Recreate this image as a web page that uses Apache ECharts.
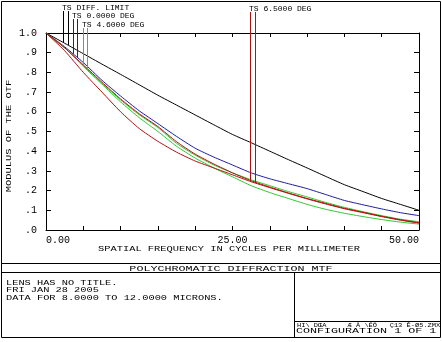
<!DOCTYPE html>
<html>
<head>
<meta charset="utf-8">
<script src="https://cdn.jsdelivr.net/npm/echarts@6/dist/echarts.min.js"></script>
<style>
html, body { margin: 0; padding: 0; background: #fff; }
#container { width: 442px; height: 342px; }
</style>
</head>
<body>
<div id="container"></div>
<script>
// spatial frequency (cycles/mm)
var freq = [0, 2.5, 5, 7.5, 10, 12.5, 15, 17.5, 20, 22.5, 25, 27.5, 30, 32.5, 35, 37.5, 40, 42.5, 45, 47.5, 50];

// MTF values
var diffLimit = [1.0, 0.948, 0.895, 0.842, 0.79, 0.737, 0.684, 0.634, 0.584, 0.534, 0.485, 0.443, 0.40, 0.357, 0.315, 0.272, 0.23, 0.195, 0.16, 0.13, 0.10];
var ts0 = [1.0, 0.93, 0.85, 0.76, 0.68, 0.605, 0.54, 0.475, 0.415, 0.37, 0.33, 0.29, 0.26, 0.235, 0.21, 0.18, 0.15, 0.128, 0.107, 0.088, 0.073];
var t46 = [1.0, 0.925, 0.835, 0.745, 0.66, 0.585, 0.52, 0.44, 0.38, 0.33, 0.29, 0.255, 0.225, 0.195, 0.168, 0.14, 0.115, 0.093, 0.073, 0.055, 0.042];
var s46 = [1.0, 0.925, 0.83, 0.74, 0.65, 0.57, 0.50, 0.425, 0.365, 0.315, 0.27, 0.225, 0.19, 0.16, 0.13, 0.105, 0.085, 0.068, 0.053, 0.04, 0.03];
var t65 = [1.0, 0.925, 0.838, 0.75, 0.665, 0.59, 0.525, 0.448, 0.385, 0.335, 0.29, 0.25, 0.218, 0.188, 0.16, 0.135, 0.11, 0.09, 0.07, 0.052, 0.037];
var s65 = [1.0, 0.91, 0.80, 0.70, 0.60, 0.515, 0.45, 0.395, 0.35, 0.315, 0.28, 0.245, 0.215, 0.186, 0.158, 0.132, 0.108, 0.088, 0.068, 0.05, 0.035];

// field labels and where their leader lines drop
var fieldLabels = ['TS DIFF. LIMIT', 'TS 0.0000 DEG', 'TS 4.6000 DEG', 'TS 6.5000 DEG'];
var leaderFreq = [[2.3, 2.95], [3.6, 4.2], [5.0, 5.5], [27.35, 28.0]];

var xLabelValues = [0, 25, 50];

var dom = document.getElementById("container");
var myChart = echarts.init(dom);
var FONT = 'Liberation Mono';

var colors = ['#000000', '#1c1c9c', '#2ec82e', '#2ec82e', '#b01010', '#b01010'];
var curves = [diffLimit, ts0, t46, s46, t65, s65];
var leaderSeries = [[diffLimit, diffLimit], [ts0, ts0], [t46, s46], [t65, s65]];
var leaderColor = ['#000000', '#1c1c9c', '#2ec82e', '#b01010'];
var labelTop = [5, 13, 22, 6];

function pairs(arr) {
    var out = [];
    for (var i = 0; i < freq.length; i++) {
        out.push([freq[i], arr[i]]);
    }
    return out;
}

//线性插值取曲线上的值
function interp(f, arr) {
    for (var i = 0; i < freq.length - 1; i++) {
        if (f >= freq[i] && f <= freq[i + 1]) {
            var t = (f - freq[i]) / (freq[i + 1] - freq[i]);
            return arr[i] + t * (arr[i + 1] - arr[i]);
        }
    }
    return arr[arr.length - 1];
}

var series = [];
for (var i = 0; i < curves.length; i++) {
    series.push({
        type: 'line',
        data: pairs(curves[i]),
        showSymbol: false,
        smooth: 0.2,
        lineStyle: { color: colors[i], width: 1 },
        silent: true,
        z: 2 + i
    });
}

var axisCommon = {
    axisLine: { show: true, onZero: false, lineStyle: { color: '#000', width: 1 } },
    axisTick: { show: true, inside: true, length: 4, lineStyle: { color: '#000' } },
    splitLine: { show: false }
};

option = {
    animation: false,
    backgroundColor: '#fff',
    grid: { left: 46, top: 33, right: 23, bottom: 112, containLabel: false, outerBoundsMode: 'none' },
    xAxis: [
        echarts.util.merge({
            type: 'value', min: 0, max: 50, interval: 5, position: 'bottom',
            axisLabel: {
                fontFamily: FONT, fontSize: 10, color: '#000', margin: 5,
                alignMinLabel: 'left', alignMaxLabel: 'right',
                formatter: function (v) {
                    return xLabelValues.indexOf(v) >= 0 ? v.toFixed(2) : '';
                }
            }
        }, axisCommon),
        echarts.util.merge({
            type: 'value', min: 0, max: 50, interval: 5, position: 'top',
            axisLabel: { show: false }
        }, axisCommon)
    ],
    yAxis: [
        echarts.util.merge({
            type: 'value', min: 0, max: 1, interval: 0.1, position: 'left',
            axisTick: { length: 5 },
            axisLabel: {
                fontFamily: FONT, fontSize: 10, color: '#000', margin: 9,
                formatter: function (v) {
                    return v >= 1 ? '1.0' : '.' + Math.round(v * 10);
                }
            }
        }, axisCommon),
        echarts.util.merge({
            type: 'value', min: 0, max: 1, interval: 0.1, position: 'right',
            axisTick: { length: 5 },
            axisLabel: { show: false }
        }, axisCommon)
    ],
    series: series
};

if (option && typeof option === "object") {
    myChart.setOption(option, true);
}

// frames, title block and field labels
var g = [];
var stroke = { stroke: '#000', fill: null, lineWidth: 1 };
g.push({ type: 'rect', shape: { x: 1.5, y: 1.5, width: 439, height: 262 }, style: stroke, silent: true });
g.push({ type: 'rect', shape: { x: 1.5, y: 263.5, width: 439, height: 74 }, style: stroke, silent: true });
g.push({ type: 'line', shape: { x1: 1.5, y1: 272.5, x2: 440.5, y2: 272.5 }, style: stroke, silent: true });
g.push({ type: 'line', shape: { x1: 294.5, y1: 272.5, x2: 294.5, y2: 337.5 }, style: stroke, silent: true });
g.push({ type: 'line', shape: { x1: 294.5, y1: 321.5, x2: 440.5, y2: 321.5 }, style: stroke, silent: true });

function txt(x, y, s, size, align, sx, rot) {
    g.push({
        type: 'text', x: x, y: y, silent: true, z: 20,
        scaleX: sx || 1, rotation: rot || 0,
        style: { text: s, fontFamily: FONT, fontSize: size, fill: '#000', textAlign: align || 'left', textVerticalAlign: 'middle' }
    });
}
// axis titles
txt(229, 249, 'SPATIAL FREQUENCY IN CYCLES PER MILLIMETER', 8, 'center', 1.3);
txt(8.5, 136, 'MODULUS OF THE OTF', 8, 'center', 1.3, Math.PI / 2);
// title block
txt(231, 268.5, 'POLYCHROMATIC DIFFRACTION MTF', 8, 'center', 1.46);
txt(6, 282.5, 'LENS HAS NO TITLE.', 8, 'left', 1.29);
txt(6, 290, 'FRI JAN 28 2005', 8, 'left', 1.29);
txt(6, 297.5, 'DATA FOR 8.0000 TO 12.0000 MICRONS.', 8, 'left', 1.29);
txt(297, 325, 'HI\\ DŒA     Æ Â \\ÉÖ   Ç13 Ê-Ø5.ZMX', 6, 'left', 1.17);
txt(296, 330.5, 'CONFIGURATION 1 OF 1', 8, 'left', 1.46);

for (var k = 0; k < fieldLabels.length; k++) {
    var firstX = null;
    for (var j = 0; j < 2; j++) {
        var f = leaderFreq[k][j];
        var v = interp(f, leaderSeries[k][j]);
        var p = myChart.convertToPixel({ xAxisIndex: 0, yAxisIndex: 0 }, [f, v]);
        var px = Math.round(p[0]) + 0.5;
        if (firstX === null) firstX = px;
        g.push({
            type: 'line', silent: true, z: 10,
            shape: { x1: px, y1: labelTop[k] + 6, x2: px, y2: p[1] },
            style: { stroke: leaderColor[k], lineWidth: 1 }
        });
    }
    txt(firstX - 1.5, labelTop[k] + 2.5, fieldLabels[k], 8);
}

myChart.setOption({ graphic: g });
</script>
</body>
</html>
